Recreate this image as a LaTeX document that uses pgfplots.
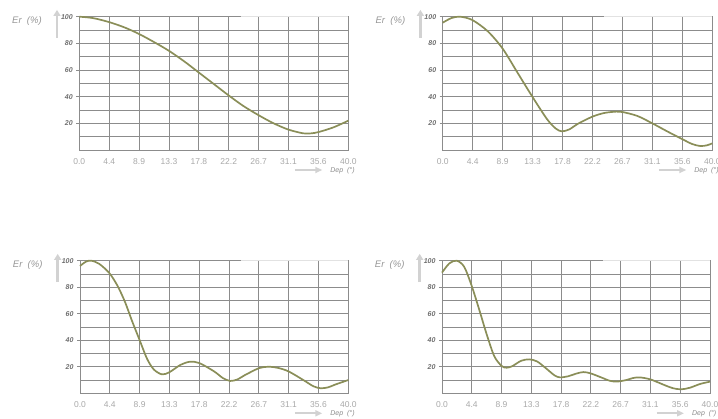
\documentclass[border=0pt]{standalone}
\usepackage{fontspec}
\setmainfont{Liberation Sans}
\usepackage{pgfplots}
\pgfplotsset{compat=1.18}
\usetikzlibrary{arrows.meta}
\definecolor{gridc}{HTML}{8C8C8C}
\definecolor{curve}{HTML}{8A8E58}
\definecolor{xlab}{HTML}{A8A8A8}
\definecolor{ylab}{HTML}{6E6E6E}
\definecolor{arr}{HTML}{D2D2D2}
\definecolor{toplight}{HTML}{E2E2E2}
\pgfplotsset{
  panel/.style={
    scale only axis,
    xmin=0, xmax=40, ymin=0, ymax=100,
    xtick={0,4.4444,8.8889,13.3333,17.7778,22.2222,26.6667,31.1111,35.5556,40},
    xticklabels={0.0,4.4,8.9,13.3,17.8,22.2,26.7,31.1,35.6,40.0},
    ytick={20,40,60,80,100},
    yticklabels={20,40,60,80,100},
    minor ytick={10,30,50,70,90},
    grid=both,
    major grid style={draw=gridc, line width=0.8pt},
    minor grid style={draw=gridc, line width=0.8pt},
    axis line style={draw=gridc, line width=0.8pt},
    x tick style={draw=none},
    y tick style={draw=gridc, line width=0.8pt},
    minor y tick style={draw=none},
    major tick length=3pt,
    tick align=outside,
    xtick pos=bottom, ytick pos=left,
    xticklabel style={font=\fontsize{8.5}{10}\selectfont, text=xlab, yshift=-1.8pt},
    yticklabel style={font=\fontsize{7}{8}\selectfont\bfseries\itshape, text=ylab, xshift=0pt},
    clip=false,
  },
  curvestyle/.style={draw=curve, line width=1.7pt, smooth, no markers},
}
\newcommand{\decor}[1]{%
  \draw[arr, line width=2.6pt, -{Triangle[width=7pt,length=6pt]}] ([xshift=-22.3pt,yshift=-21.3pt]#1.north west) -- ([xshift=-22.3pt,yshift=6.8pt]#1.north west);
  \node[font=\fontsize{9.5}{11}\selectfont\itshape, text=xlab!90!black] at ([xshift=-52.3pt,yshift=-4.3pt]#1.north west) {Er\ \ (\%)};
  \draw[arr, line width=2.2pt, -{Triangle[width=6pt,length=7pt]}] ([xshift=-53.5pt,yshift=-20pt]#1.south east) -- ([xshift=-26pt,yshift=-20pt]#1.south east);
  \node[font=\fontsize{7}{8}\selectfont\itshape, text=ylab!80!white] at ([xshift=-5.8pt,yshift=-20.5pt]#1.south east) {Dep\ \ (°)};
}
\begin{document}
\begin{tikzpicture}
\useasboundingbox (0,0) rectangle (718pt,418pt);
% top-left
\begin{axis}[panel, name=tl, at={(79.3pt,268pt)}, anchor=south west, width=269pt, height=133.3pt]
\draw[toplight, line width=0.9pt] (axis cs:24,100) -- (axis cs:40,100);
\addplot[curvestyle] coordinates {
(0,100) (2,99) (4.4,96) (6.7,92) (8.9,87) (11.1,81) (13.3,74.5) (15.6,66.5) (17.8,58) (20,49.5) (22.2,41) (24.4,33) (26.7,26) (28.9,20) (31.1,15.3) (33.3,12.5) (34.5,12.5) (35.6,13.5) (37.8,17) (40,22)};
\end{axis}
% top-right
\begin{axis}[panel, name=tr, at={(442.7pt,268pt)}, anchor=south west, width=269.6pt, height=133.3pt]
\draw[toplight, line width=0.9pt] (axis cs:24,100) -- (axis cs:40,100);
\addplot[curvestyle] coordinates {
(0,95.5) (1.3,99) (2.6,100) (4.4,97.5) (6.7,89) (8.9,76) (11.1,58) (13.3,40) (15.5,23) (16.8,16) (17.7,14) (18.8,15.5) (20,19.5) (22.2,25) (24,27.8) (25.8,28.8) (26.7,28.5) (28.9,25.5) (31.1,20) (33.3,14) (35.6,8) (37,4.5) (38.2,3) (39.2,3.5) (40,5)};
\end{axis}
% bottom-left
\begin{axis}[panel, name=bl, at={(80pt,24.7pt)}, anchor=south west, width=268.3pt, height=132.6pt]
\draw[toplight, line width=0.9pt] (axis cs:24,100) -- (axis cs:40,100);
\addplot[curvestyle] coordinates {
(0,96) (0.9,99.3) (1.7,100) (2.9,97.5) (4.4,90.5) (5.6,81) (6.7,69) (7.8,54) (8.9,40) (10,26) (11,18) (12.2,14.3) (13.3,15.8) (15,21.5) (16.4,23.8) (17.8,22.8) (20,16.5) (21.3,11.5) (22.4,9.3) (23.5,10.5) (24.5,13.5) (26.7,19) (28.1,20) (29.5,19.2) (31.1,16.5) (33.3,10) (34.8,5.3) (35.9,3.8) (37,4.5) (38,6.5) (40,10)};
\end{axis}
% bottom-right
\begin{axis}[panel, name=br, at={(442pt,24.7pt)}, anchor=south west, width=268pt, height=132.6pt]
\draw[toplight, line width=0.9pt] (axis cs:24,100) -- (axis cs:40,100);
\addplot[curvestyle] coordinates {
(0,91) (1.1,98) (2.2,100) (3.3,95.5) (4.4,81.5) (5.5,64) (6.7,44) (7.8,28) (8.9,20.6) (9.65,19.3) (10.5,20.5) (11.8,24.5) (13,25.6) (14.2,24) (15.6,18.5) (16.8,13.5) (17.6,12) (18.8,12.8) (20,14.8) (21.1,16) (22.2,15) (24,11.5) (25,9.5) (26.1,8.8) (27.5,10) (28.5,11.5) (29.5,12) (31.1,10.5) (33.3,6) (34.5,3.8) (35.7,3) (37,4.2) (38.5,7) (40,8.8)};
\end{axis}
\decor{tl}
\decor{tr}
\decor{bl}
\decor{br}
\end{tikzpicture}
\end{document}
